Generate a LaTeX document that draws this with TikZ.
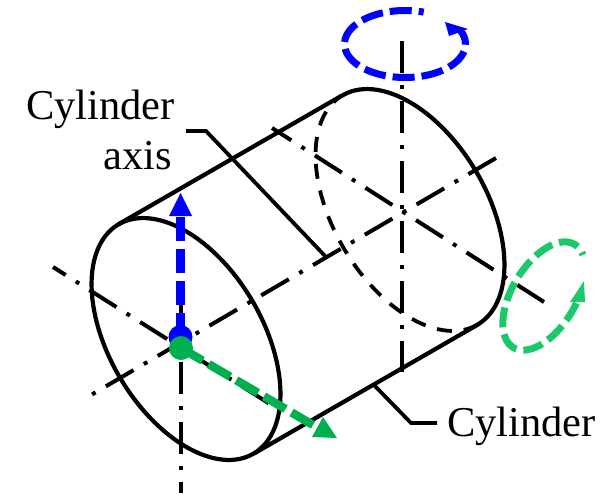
\documentclass[tikz,border=0pt]{standalone}
\usepackage{fontspec}
\setmainfont{Liberation Serif}
\definecolor{bluerot}{RGB}{0,0,255}
\definecolor{greenax}{RGB}{0,176,80}
\definecolor{greenrot}{RGB}{28,200,105}
\tikzset{
  outline/.style={line width=4.2pt,black},
  hidden/.style={line width=3.8pt,black,dash pattern=on 15pt off 12pt},
  axisline/.style={line width=4pt,black,dash pattern=on 32pt off 12pt on 4pt off 12pt},
  leader/.style={line width=3.8pt,black},
  lbl/.style={font=\fontsize{42.5}{42.5}\selectfont,inner sep=0pt,anchor=base west},
  bluedash/.style={line width=8.5pt,bluerot,dash pattern=on 24pt off 8pt},
  greendash/.style={line width=8.5pt,greenax,dash pattern=on 25pt off 7pt},
  bluering/.style={line width=7pt,bluerot,dash pattern=on 22pt off 7pt,dash phase=5pt},
  greenring/.style={line width=7pt,greenrot,dash pattern=on 20pt off 7pt},
}
\newcommand{\ellx}[3]{#1+133*cos(#3)*0.509-76.5*sin(#3)*0.861}
\newcommand{\elly}[3]{#2+133*cos(#3)*0.861+76.5*sin(#3)*0.509}
\begin{document}
\begin{tikzpicture}[x=1pt,y=-1pt]
\useasboundingbox (0,0) rectangle (615,493);
% axes
\draw[axisline] (402,41) -- (402,372);
\draw[axisline] (544,302) -- (272,128);
\draw[axisline] (496,158) -- (91,395);
\draw[axisline] (180.5,302) -- (180.5,493);
\draw[axisline,dash phase=17pt] (53,267) -- (270,404);
% cylinder
\draw[outline,samples=80,domain=180:360,smooth,variable=\t] plot ({\ellx{410}{210}{\t}},{\elly{410}{210}{\t}});
\draw[hidden,samples=80,domain=0:180,smooth,variable=\t] plot ({\ellx{410}{210}{\t}},{\elly{410}{210}{\t}});
\draw[outline,samples=160,domain=0:360,smooth,variable=\t] plot ({\ellx{186}{339}{\t}},{\elly{186}{339}{\t}}) -- cycle;
\draw[outline] (118,224.5) -- (342,95.5);
\draw[outline] (254,453.5) -- (478,324.5);
% labels
\node[lbl] (labA) at (26,119) {Cylinder};
\node[lbl] (labB) at (103,169) {axis};
\node[lbl] (labC) at (447,436) {Cylinder};
\coordinate (axisA) at (326,257);
\coordinate (axisB) at (206,131);
\coordinate (axisC) at (186,131);
\coordinate (cylA) at (373,384);
\coordinate (cylB) at (411,423);
\coordinate (cylC) at (437,423);
\draw[leader] (axisC) -- (axisB) -- (axisA);
\draw[leader] (cylA) -- (cylB) -- (cylC);
% blue
\draw[bluedash] (180.5,217) -- (180.5,337);
\fill[bluerot] (180.5,337) circle (12);
\fill[bluerot] (180.5,193) -- (169,216) -- (192,216) -- cycle;
% green
\draw[greendash] (181,348) -- (313,425);
\fill[greenax] (181,348) circle (12);
\fill[greenax] (323,417) -- (312,437) -- (337,438) -- cycle;
% blue rotation
\draw[bluering,samples=100,domain=-26:288,smooth,variable=\t] plot ({405+60.5*cos(\t)},{44+33.5*sin(\t)});
\fill[bluerot] (445,22) -- (468,29) -- (449,36) -- cycle;
% green rotation
\draw[greenring,samples=100,domain=80:383,smooth,variable=\t] plot ({544+60*cos(\t)*0.51+32*sin(\t)*0.86},{296-60*cos(\t)*0.86+32*sin(\t)*0.51});
\fill[greenrot] (584,281) -- (570,302) -- (585,302) -- cycle;
\end{tikzpicture}
\end{document}
